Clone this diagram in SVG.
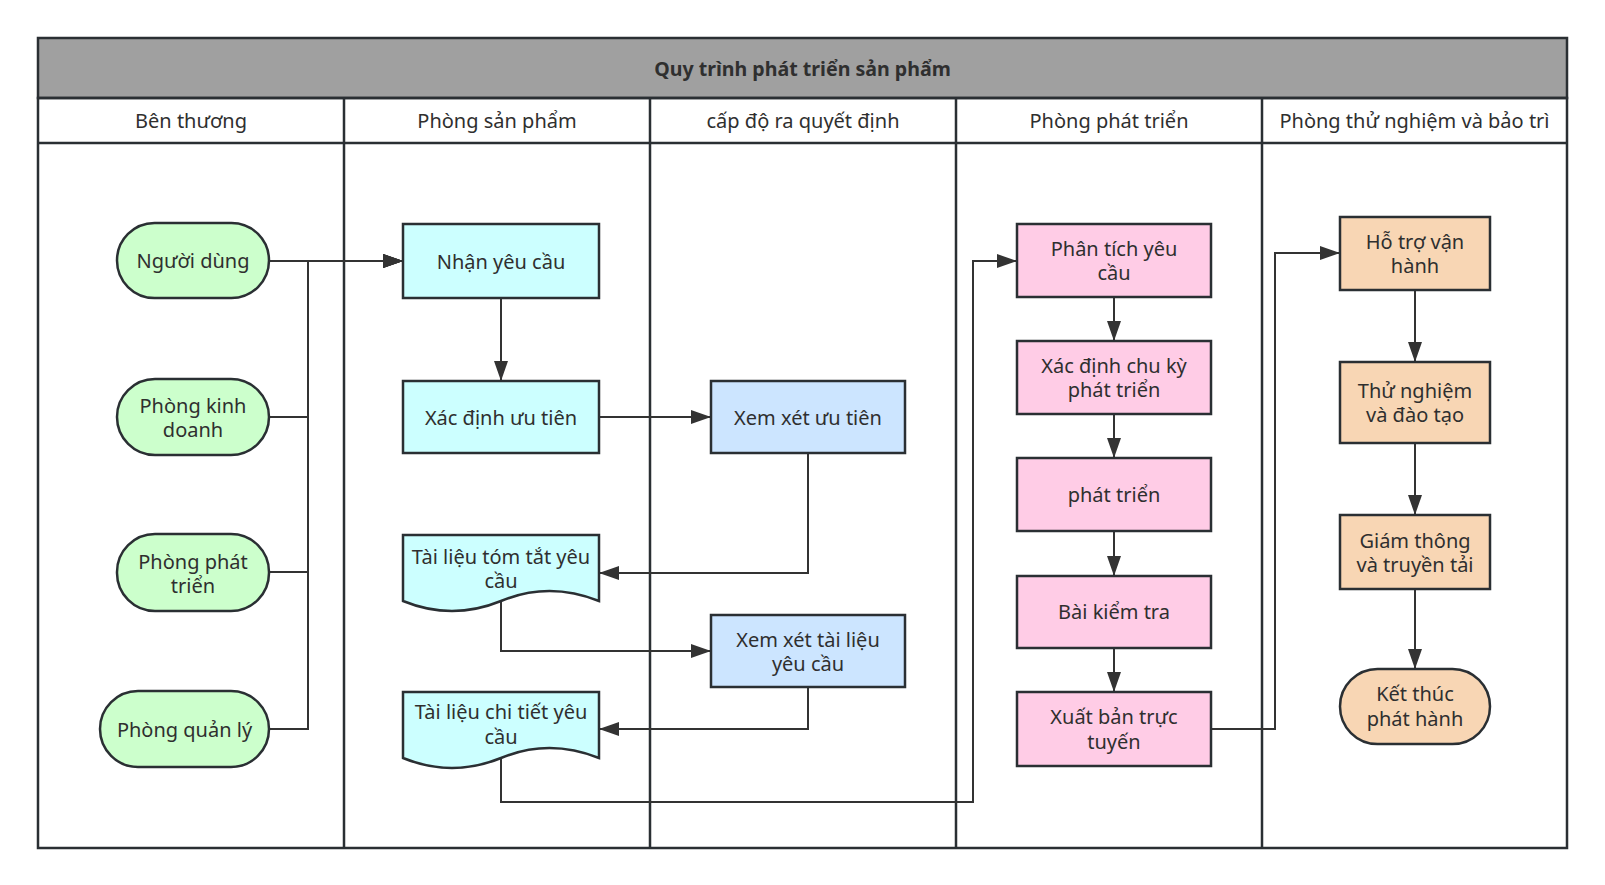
<svg xmlns="http://www.w3.org/2000/svg" width="1605" height="885" viewBox="0 0 1605 885">
<defs>
<style>
text{font-family:"Noto Sans","Open Sans","DejaVu Sans",sans-serif;fill:#2f2f2f;text-anchor:middle;dominant-baseline:central}
.t{font-size:20px}
.h{font-size:20px}
.title{font-size:19.6px;font-weight:bold}
.frame{fill:none;stroke:#2a2f33;stroke-width:2.5}
.n{stroke:#2a2f33;stroke-width:2.5}
.g{fill:#ccffcc}
.c{fill:#ccffff}
.b{fill:#cce5ff}
.p{fill:#ffcce6}
.o{fill:#f8d6b4}
.e{fill:none;stroke:#333333;stroke-width:2;marker-end:url(#ar)}
</style>
<marker id="ar" viewBox="0 0 20 14" refX="20" refY="7" markerWidth="20" markerHeight="14" markerUnits="userSpaceOnUse" orient="auto">
<path d="M0,0 L20,7 L0,14 Z" fill="#333333"/>
</marker>
</defs>
<rect width="1605" height="885" fill="#ffffff"/>
<g id="pool">
<rect x="38" y="38" width="1529" height="60" fill="#a0a0a0" stroke="#2a2f33" stroke-width="2.5"/>
<text class="title" x="802.5" y="68">Quy trình phát triển sản phẩm</text>
<rect class="frame" x="38" y="98" width="1529" height="750"/>
<line class="frame" x1="38" y1="143" x2="1567" y2="143"/>
<line class="frame" x1="344" y1="98" x2="344" y2="848"/>
<line class="frame" x1="650" y1="98" x2="650" y2="848"/>
<line class="frame" x1="956" y1="98" x2="956" y2="848"/>
<line class="frame" x1="1262" y1="98" x2="1262" y2="848"/>
<text class="h" x="191" y="120.5">Bên thương</text>
<text class="h" x="497" y="120.5">Phòng sản phẩm</text>
<text class="h" x="803" y="120.5">cấp độ ra quyết định</text>
<text class="h" x="1109" y="120.5">Phòng phát triển</text>
<text class="h" x="1414.5" y="120.5">Phòng thử nghiệm và bảo trì</text>
</g>
<g id="connectors">
<path class="e" d="M269,261 H403"/>
<path class="e" d="M269,417 H308 V261 H403"/>
<path class="e" d="M269,572 H308 V261 H403"/>
<path class="e" d="M269,729 H308 V261 H403"/>
<path class="e" d="M501,298 V381"/>
<path class="e" d="M599,417 H711"/>
<path class="e" d="M808,453 V573 H599"/>
<path class="e" d="M501,601 V651 H711"/>
<path class="e" d="M808,687 V729 H599"/>
<path class="e" d="M501,758 V802 H973 V261 H1017"/>
<path class="e" d="M1114,297 V341"/>
<path class="e" d="M1114,414 V458"/>
<path class="e" d="M1114,531 V576"/>
<path class="e" d="M1114,648 V692"/>
<path class="e" d="M1211,729 H1275 V253 H1340"/>
<path class="e" d="M1415,290 V362"/>
<path class="e" d="M1415,443 V515"/>
<path class="e" d="M1415,589 V669"/>
</g>
<g id="n1"><rect class="n g" x="117" y="223" width="152" height="75" rx="37.5"/><text class="t" x="193" y="260.5">Người dùng</text></g>
<g id="n2"><rect class="n g" x="117" y="379" width="152" height="76" rx="38"/><text class="t" x="193" y="405">Phòng kinh</text><text class="t" x="193" y="429">doanh</text></g>
<g id="n3"><rect class="n g" x="117" y="534" width="152" height="77" rx="38"/><text class="t" x="193" y="561">Phòng phát</text><text class="t" x="193" y="585">triển</text></g>
<g id="n4"><rect class="n g" x="100" y="691" width="169" height="76" rx="38"/><text class="t" x="184.5" y="729">Phòng quản lý</text></g>
<g id="n5"><rect class="n c" x="403" y="224" width="196" height="74"/><text class="t" x="501" y="261">Nhận yêu cầu</text></g>
<g id="n6"><rect class="n c" x="403" y="381" width="196" height="72"/><text class="t" x="501" y="417">Xác định ưu tiên</text></g>
<g id="n7"><path class="n c" d="M403,535 H599 V601 Q549,581 501,601 Q452,621 403,601 Z"/><text class="t" x="501" y="556">Tài liệu tóm tắt yêu</text><text class="t" x="501" y="580.5">cầu</text></g>
<g id="n8"><path class="n c" d="M403,692 H599 V758 Q549,738 501,758 Q452,778 403,758 Z"/><text class="t" x="501" y="711.5">Tài liệu chi tiết yêu</text><text class="t" x="501" y="736">cầu</text></g>
<g id="n9"><rect class="n b" x="711" y="381" width="194" height="72"/><text class="t" x="808" y="417">Xem xét ưu tiên</text></g>
<g id="n10"><rect class="n b" x="711" y="615" width="194" height="72"/><text class="t" x="808" y="639">Xem xét tài liệu</text><text class="t" x="808" y="663">yêu cầu</text></g>
<g id="n11"><rect class="n p" x="1017" y="224" width="194" height="73"/><text class="t" x="1114" y="248.5">Phân tích yêu</text><text class="t" x="1114" y="272.5">cầu</text></g>
<g id="n12"><rect class="n p" x="1017" y="341" width="194" height="73"/><text class="t" x="1114" y="365.5">Xác định chu kỳ</text><text class="t" x="1114" y="389.5">phát triển</text></g>
<g id="n13"><rect class="n p" x="1017" y="458" width="194" height="73"/><text class="t" x="1114" y="494.5">phát triển</text></g>
<g id="n14"><rect class="n p" x="1017" y="576" width="194" height="72"/><text class="t" x="1114" y="611">Bài kiểm tra</text></g>
<g id="n15"><rect class="n p" x="1017" y="692" width="194" height="74"/><text class="t" x="1114" y="716.5">Xuất bản trực</text><text class="t" x="1114" y="741">tuyến</text></g>
<g id="n16"><rect class="n o" x="1340" y="217" width="150" height="73"/><text class="t" x="1415" y="241">Hỗ trợ vận</text><text class="t" x="1415" y="265">hành</text></g>
<g id="n17"><rect class="n o" x="1340" y="362" width="150" height="81"/><text class="t" x="1415" y="390.5">Thử nghiệm</text><text class="t" x="1415" y="414.5">và đào tạo</text></g>
<g id="n18"><rect class="n o" x="1340" y="515" width="150" height="74"/><text class="t" x="1415" y="540">Giám thông</text><text class="t" x="1415" y="564">và truyền tải</text></g>
<g id="n19"><rect class="n o" x="1340" y="669" width="150" height="75" rx="37.5"/><text class="t" x="1415" y="693.5">Kết thúc</text><text class="t" x="1415" y="718.5">phát hành</text></g>
</svg>
